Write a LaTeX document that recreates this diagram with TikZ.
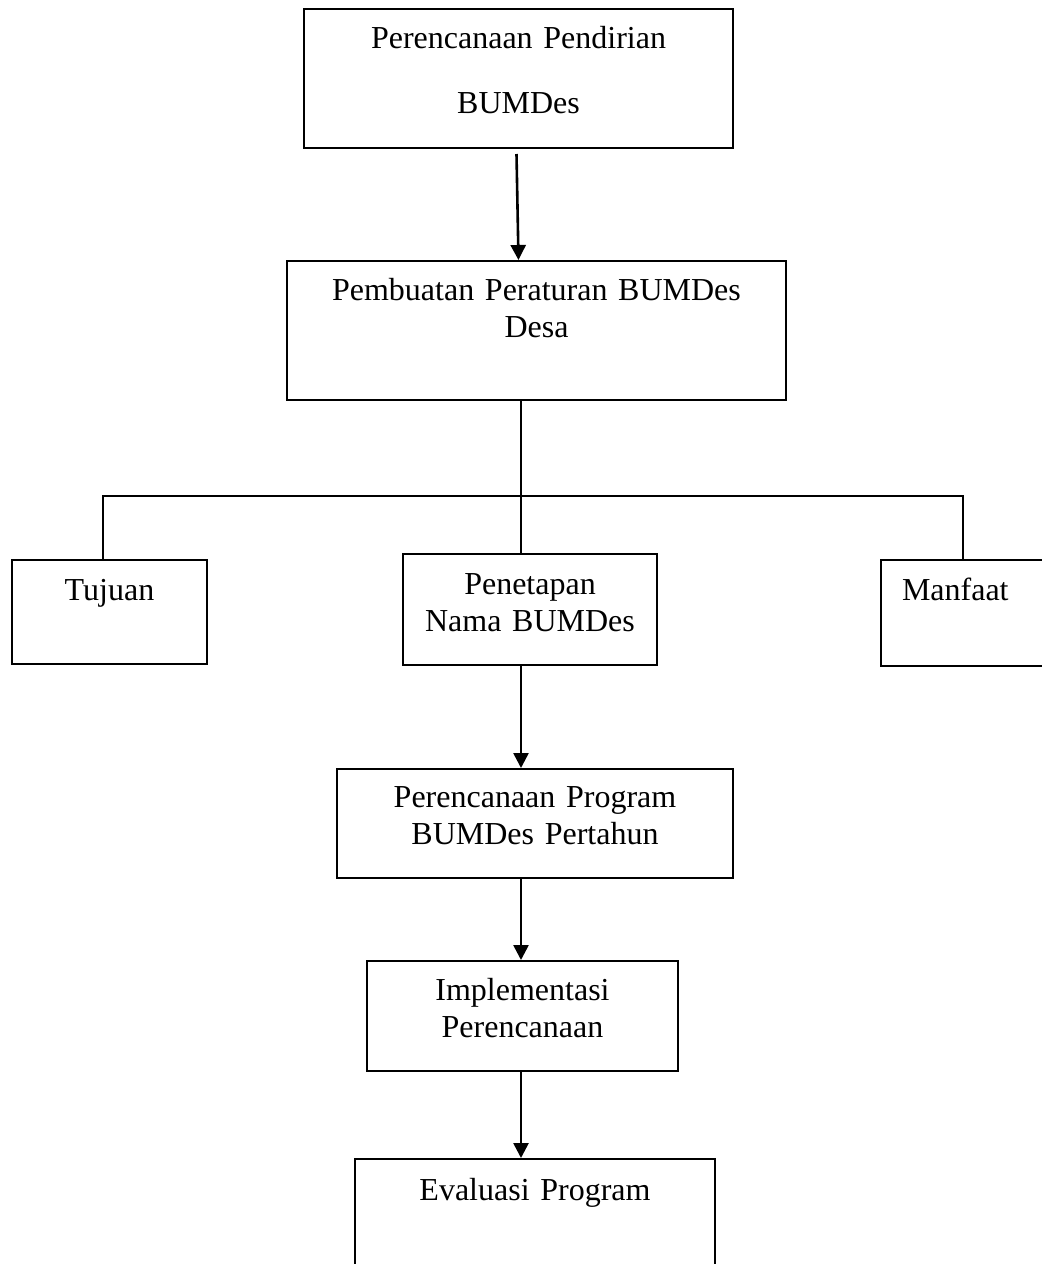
\documentclass[tikz,border=0pt]{standalone}
\usepackage{fontspec}
\setmainfont{Liberation Serif}
\usetikzlibrary{arrows.meta}

\begin{document}
\begin{tikzpicture}[x=0.5pt,y=-0.5pt,
    >={Triangle[length=7.5pt,width=7.5pt]},
    kotak/.style={draw=black, line width=1pt, rectangle, inner sep=0pt, anchor=base,
        align=center, font=\fontsize{16pt}{18.75pt}\selectfont},
    garis/.style={draw=black, line width=0.85pt},
    panah/.style={->, draw=black, line width=1.3pt}]
        \useasboundingbox (0,0) rectangle (1042,1264);

        \node[kotak, text width=214.5pt, text height=19.5pt, text depth=50pt] (A) at (518.5, 48) {Perencanaan Pendirian\\[13.75pt] BUMDes};

        \node[kotak, text width=249.5pt, text height=19.5pt, text depth=50pt] (B) at (536.5, 300) {Pembuatan Peraturan BUMDes\\ Desa};

        \node[kotak, text width=97.5pt, text height=20pt, text depth=32pt] (C) at (109.5, 600) {Tujuan};

        \node[kotak, text width=127pt, text height=20pt, text depth=35.5pt] (D) at (530, 594) {Penetapan\\ Nama BUMDes};

        \node[kotak, align=left, inner xsep=10.5pt, text width=68.5pt, text height=20pt, text depth=33pt] (E) at (970.5, 600) {Manfaat};

        \node[kotak, text width=198pt, text height=19pt, text depth=35.5pt] (F) at (535, 807) {Perencanaan Program\\ BUMDes Pertahun};

        \node[kotak, text width=155.5pt, text height=19.5pt, text depth=35.5pt] (G) at (522.5, 1000) {Implementasi\\ Perencanaan};

        \node[kotak, text width=180pt, text height=20.5pt, text depth=50pt] (H) at (535, 1200) {Evaluasi Program};

        \coordinate (bus) at (521, 496);
        \coordinate (busL) at (103, 496);
        \coordinate (busR) at (963, 496);


        \draw[panah] ([xshift=-1pt,yshift=-2.5pt]A.south) -- (A.south |- B.north);

        \draw[garis] (B.south -| bus) -- (D.north -| bus);
        \draw[garis] (busL |- C.north) -- (busL) -- (busR) -- (busR |- E.north);

        \draw[panah] (D.south -| bus) -- (F.north -| bus);
        \draw[panah] (F.south -| bus) -- (G.north -| bus);
        \draw[panah] (G.south -| bus) -- (H.north -| bus);

    \end{tikzpicture}
\end{document}
